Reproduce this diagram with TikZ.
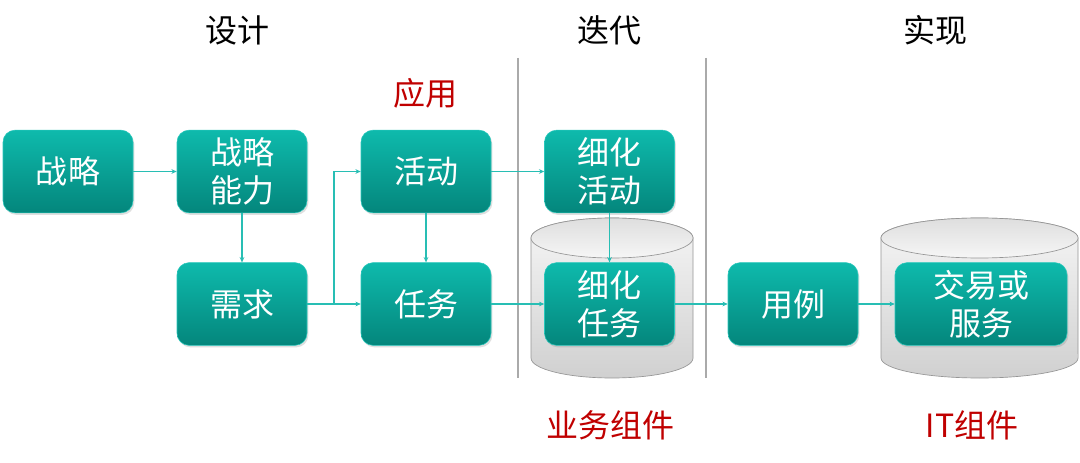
\documentclass[tikz,border=0pt]{standalone}
\usepackage{fontspec}
\setmainfont{Noto Sans CJK SC}
\usetikzlibrary{arrows.meta,shadows}
\definecolor{boxtop}{RGB}{14,186,172}
\definecolor{boxbot}{RGB}{4,134,124}
\definecolor{boxedge}{RGB}{40,200,188}
\definecolor{conncol}{RGB}{40,190,180}
\definecolor{titlered}{RGB}{192,0,0}
\definecolor{sepgray}{RGB}{170,170,170}
\definecolor{cyltop}{RGB}{246,246,246}
\definecolor{cylbot}{RGB}{208,208,208}
\definecolor{cyledge}{RGB}{150,150,150}
\begin{document}
\begin{tikzpicture}[x=0.75pt,y=-0.75pt,
  stepbox/.style={rectangle, rounded corners=9pt, minimum width=97.5pt, minimum height=62pt,
    top color=boxtop, bottom color=boxbot, draw=boxedge, line width=0.4pt,
    text=white, align=center, font=\fontsize{24}{28.5}\selectfont, inner sep=0pt,
    drop shadow={opacity=0.25, shadow xshift=1pt, shadow yshift=-1.5pt}},
  conn/.style={draw=conncol, line width=0.8pt, -{Stealth[length=4pt,width=3.5pt]}},
  plain/.style={draw=conncol, line width=0.8pt},
  title/.style={font=\fontsize{24}{28}\selectfont, text=black},
  redlabel/.style={font=\fontsize{24}{28}\selectfont, text=titlered},
  cylbody/.style={top color=cyltop, bottom color=cylbot, draw=cyledge, line width=0.5pt},
  cyllid/.style={top color=cylbot!70!white, bottom color=cyltop, draw=cyledge, line width=0.5pt},
  sep/.style={draw=sepgray, line width=1.1pt}
]
\useasboundingbox[fill=white] (0,0) rectangle (1080,463);

% titles
\node[title] (t1) at (237,30) {设计};
\node[title] (t2) at (609,30) {迭代};
\node[title] (t3) at (935,30) {实现};
\node[redlabel] (r1) at (425,93) {应用};
\node[redlabel] (r2) at (610,425) {业务组件};
\node[redlabel] (r3) at (972,425) {IT组件};

% separators
\draw[sep] (518,58) -- (518,378);
\draw[sep] (706,58) -- (706,378);

% cylinders
\path[cylbody] (531,238) -- (531,358) arc[start angle=180,end angle=360,x radius=60.75pt,y radius=15pt]
  -- (693,238) arc[start angle=0,end angle=180,x radius=60.75pt,y radius=15pt] -- cycle;
\path[cyllid] (612,238) ellipse[x radius=60.75pt,y radius=15pt];
\path[cylbody] (881,238) -- (881,358) arc[start angle=180,end angle=360,x radius=73.9pt,y radius=15pt]
  -- (1078,238) arc[start angle=0,end angle=180,x radius=73.9pt,y radius=15pt] -- cycle;
\path[cyllid] (979.5,238) ellipse[x radius=73.9pt,y radius=15pt];

% boxes
\node[stepbox] (zl) at (68,171.5) {战略};
\node[stepbox] (zlnl) at (242,171.5) {战略\\能力};
\node[stepbox] (xq) at (242,304) {需求};
\node[stepbox] (hd) at (426,171.5) {活动};
\node[stepbox] (rw) at (426,304) {任务};
\node[stepbox] (xhhd) at (609.5,171.5) {细化\\活动};
\node[stepbox] (xhrw) at (609.5,304) {细化\\任务};
\node[stepbox] (yl) at (793,304) {用例};
\node[stepbox, minimum width=129pt] (jy) at (981,304) {交易或\\服务};

% connectors
\coordinate (sp) at (334,304);
\draw[conn] (zl) -- (zlnl);
\draw[conn] (zlnl) -- (xq);
\draw[plain] (xq) -- (sp);
\draw[conn] (sp) |- (hd);
\draw[conn] (sp) -- (rw);
\draw[conn] (hd) -- (rw);
\draw[conn] (hd) -- (xhhd);
\draw[conn] (rw) -- (xhrw);
\draw[conn] (xhhd) -- (xhrw);
\draw[conn] (xhrw) -- (yl);
\draw[conn] (yl) -- (jy);
\end{tikzpicture}
\end{document}
